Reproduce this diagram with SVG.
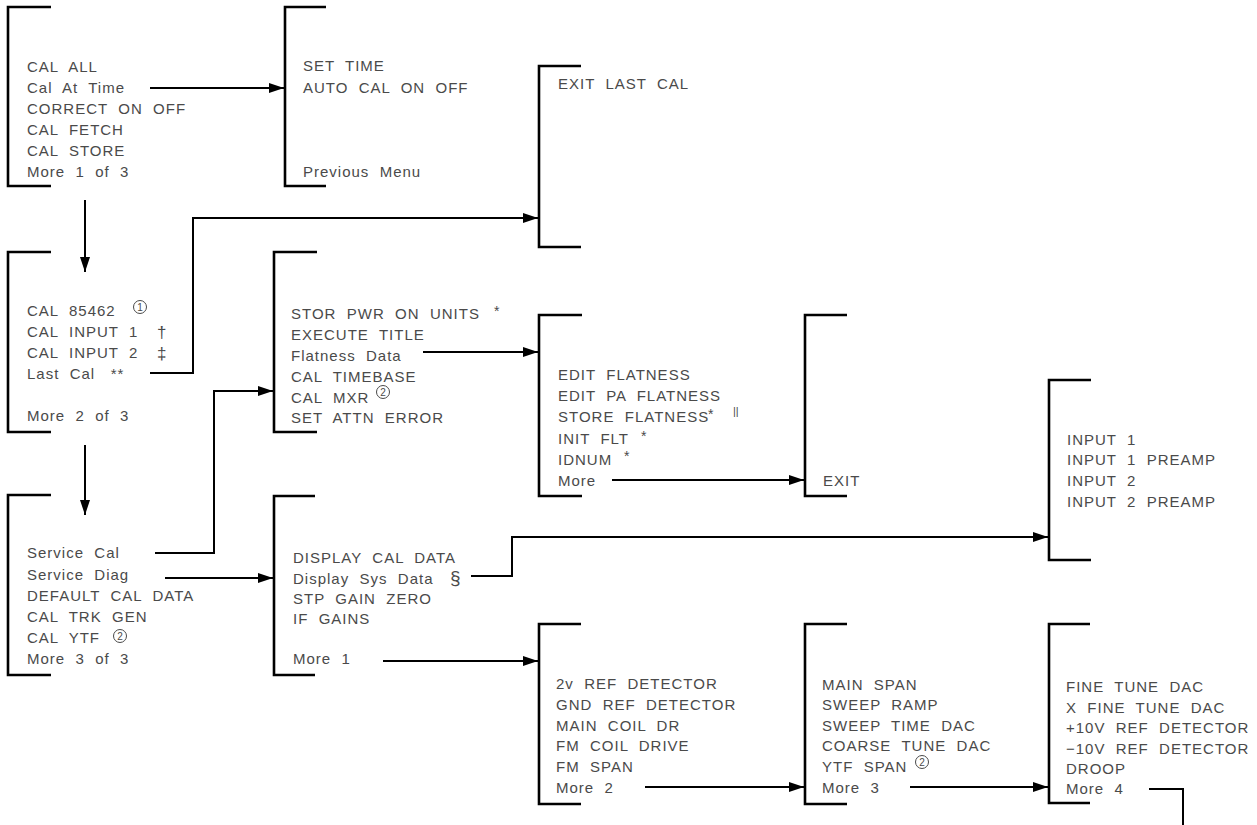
<svg xmlns="http://www.w3.org/2000/svg" width="1257" height="825" viewBox="0 0 1257 825" xml:space="preserve">
<defs>
<style>
.br{fill:none;stroke:#000;stroke-width:2.6;stroke-linejoin:miter}
.cn{fill:none;stroke:#000;stroke-width:2}
.t{font-family:"Liberation Sans",Arial,sans-serif;font-size:15px;letter-spacing:1px;fill:#4a4a4a;white-space:pre}
.s{font-family:"Liberation Sans",Arial,sans-serif;font-size:14px;fill:#4a4a4a;white-space:pre}
.cc{fill:none;stroke:#4a4a4a;stroke-width:1}
.cd{font-family:"Liberation Sans",Arial,sans-serif;font-size:10px;fill:#4a4a4a;text-anchor:middle}
</style>
<marker id="ah" markerUnits="userSpaceOnUse" markerWidth="16" markerHeight="10" refX="15" refY="5" orient="auto">
<path d="M0,0 L15,5 L0,10 z" fill="#000"/>
</marker>
</defs>
<rect width="1257" height="825" fill="#fff"/>

<g id="connectors">
<path class="cn" d="M150,88 H284" marker-end="url(#ah)"/>
<path class="cn" d="M85,200 V272" marker-end="url(#ah)"/>
<path class="cn" d="M150,373 H193 V218 H538" marker-end="url(#ah)"/>
<path class="cn" d="M85,445 V515" marker-end="url(#ah)"/>
<path class="cn" d="M155,553 H214 V391 H273" marker-end="url(#ah)"/>
<path class="cn" d="M165,578 H273" marker-end="url(#ah)"/>
<path class="cn" d="M423,352 H538" marker-end="url(#ah)"/>
<path class="cn" d="M612,480 H804" marker-end="url(#ah)"/>
<path class="cn" d="M471,576 H512 V537 H1048" marker-end="url(#ah)"/>
<path class="cn" d="M383,661 H538" marker-end="url(#ah)"/>
<path class="cn" d="M645,787 H804" marker-end="url(#ah)"/>
<path class="cn" d="M910,787 H1048" marker-end="url(#ah)"/>
<path class="cn" d="M1149,789 H1183 V825"/>
</g>

<g id="menu1">
<path class="br" d="M51,7 H8 V186 H51"/>
<text class="t" x="27" y="72">CAL  ALL</text>
<text class="t" x="27" y="93">Cal  At  Time</text>
<text class="t" x="27" y="114">CORRECT  ON  OFF</text>
<text class="t" x="27" y="135">CAL  FETCH</text>
<text class="t" x="27" y="156">CAL  STORE</text>
<text class="t" x="27" y="177">More  1  of  3</text>
</g>

<g id="caltime">
<path class="br" d="M326,7 H285 V186 H326"/>
<text class="t" x="303" y="71">SET  TIME</text>
<text class="t" x="303" y="93">AUTO  CAL  ON  OFF</text>
<text class="t" x="303" y="177">Previous  Menu</text>
</g>

<g id="lastcal">
<path class="br" d="M581,66 H539 V247 H581"/>
<text class="t" x="558" y="89">EXIT  LAST  CAL</text>
</g>

<g id="menu2">
<path class="br" d="M51,252 H8 V432 H51"/>
<text class="t" x="27" y="316">CAL  85462</text>
<circle class="cc" cx="140" cy="307" r="6.5"/><text class="cd" x="140" y="311">1</text>
<text class="t" x="27" y="337">CAL  INPUT  1</text>
<text class="s" x="157" y="338" style="font-size:17px">†</text>
<text class="t" x="27" y="358">CAL  INPUT  2</text>
<text class="s" x="157" y="359" style="font-size:17px">‡</text>
<text class="t" x="27" y="379">Last  Cal   **</text>
<text class="t" x="27" y="421">More  2  of  3</text>
</g>

<g id="servicecal">
<path class="br" d="M317,252 H274 V432 H317"/>
<text class="t" x="291" y="319">STOR  PWR  ON  UNITS</text>
<text class="s" x="494" y="316">*</text>
<text class="t" x="291" y="340">EXECUTE  TITLE</text>
<text class="t" x="291" y="361">Flatness  Data</text>
<text class="t" x="291" y="382">CAL  TIMEBASE</text>
<text class="t" x="291" y="403">CAL  MXR</text>
<circle class="cc" cx="383" cy="392" r="6.5"/><text class="cd" x="383" y="396">2</text>
<text class="t" x="291" y="423">SET  ATTN  ERROR</text>
</g>

<g id="flatness">
<path class="br" d="M582,315 H539 V496 H582"/>
<text class="t" x="558" y="380">EDIT  FLATNESS</text>
<text class="t" x="558" y="401">EDIT  PA  FLATNESS</text>
<text class="t" x="558" y="422">STORE  FLATNESS</text>
<text class="s" x="708" y="419">*</text>
<text class="s" x="733" y="415" style="font-size:11px">||</text>
<text class="t" x="558" y="444">INIT  FLT</text>
<text class="s" x="641" y="441">*</text>
<text class="t" x="558" y="465">IDNUM</text>
<text class="s" x="624" y="461">*</text>
<text class="t" x="558" y="486">More</text>
</g>

<g id="exit">
<path class="br" d="M847,315 H805 V496 H847"/>
<text class="t" x="823" y="486">EXIT</text>
</g>

<g id="menu3">
<path class="br" d="M51,495 H8 V675 H51"/>
<text class="t" x="27" y="558">Service  Cal</text>
<text class="t" x="27" y="580">Service  Diag</text>
<text class="t" x="27" y="601">DEFAULT  CAL  DATA</text>
<text class="t" x="27" y="622">CAL  TRK  GEN</text>
<text class="t" x="27" y="643">CAL  YTF</text>
<circle class="cc" cx="120" cy="636" r="6.5"/><text class="cd" x="120" y="640">2</text>
<text class="t" x="27" y="664">More  3  of  3</text>
</g>

<g id="servicediag">
<path class="br" d="M315,496 H274 V675 H315"/>
<text class="t" x="293" y="563">DISPLAY  CAL  DATA</text>
<text class="t" x="293" y="584">Display  Sys  Data</text>
<text class="s" x="450" y="584" style="font-size:19px">§</text>
<text class="t" x="293" y="604">STP  GAIN  ZERO</text>
<text class="t" x="293" y="624">IF  GAINS</text>
<text class="t" x="293" y="664">More  1</text>
</g>

<g id="sysdata">
<path class="br" d="M1091,380 H1049 V560 H1091"/>
<text class="t" x="1067" y="445">INPUT  1</text>
<text class="t" x="1067" y="465">INPUT  1  PREAMP</text>
<text class="t" x="1067" y="486">INPUT  2</text>
<text class="t" x="1067" y="507">INPUT  2  PREAMP</text>
</g>

<g id="more1">
<path class="br" d="M581,624 H539 V804 H581"/>
<text class="t" x="556" y="689">2v  REF  DETECTOR</text>
<text class="t" x="556" y="710">GND  REF  DETECTOR</text>
<text class="t" x="556" y="731">MAIN  COIL  DR</text>
<text class="t" x="556" y="751">FM  COIL  DRIVE</text>
<text class="t" x="556" y="772">FM  SPAN</text>
<text class="t" x="556" y="793">More  2</text>
</g>

<g id="more2">
<path class="br" d="M847,624 H805 V804 H847"/>
<text class="t" x="822" y="690">MAIN  SPAN</text>
<text class="t" x="822" y="710">SWEEP  RAMP</text>
<text class="t" x="822" y="731">SWEEP  TIME  DAC</text>
<text class="t" x="822" y="751">COARSE  TUNE  DAC</text>
<text class="t" x="822" y="772">YTF  SPAN</text>
<circle class="cc" cx="922" cy="762" r="6.5"/><text class="cd" x="922" y="766">2</text>
<text class="t" x="822" y="793">More  3</text>
</g>

<g id="more3">
<path class="br" d="M1090,624 H1049 V803 H1090"/>
<text class="t" x="1066" y="692">FINE  TUNE  DAC</text>
<text class="t" x="1066" y="713">X  FINE  TUNE  DAC</text>
<text class="t" x="1066" y="733">+10V  REF  DETECTOR</text>
<text class="t" x="1066" y="754">−10V  REF  DETECTOR</text>
<text class="t" x="1066" y="774">DROOP</text>
<text class="t" x="1066" y="794">More  4</text>
</g>
</svg>
